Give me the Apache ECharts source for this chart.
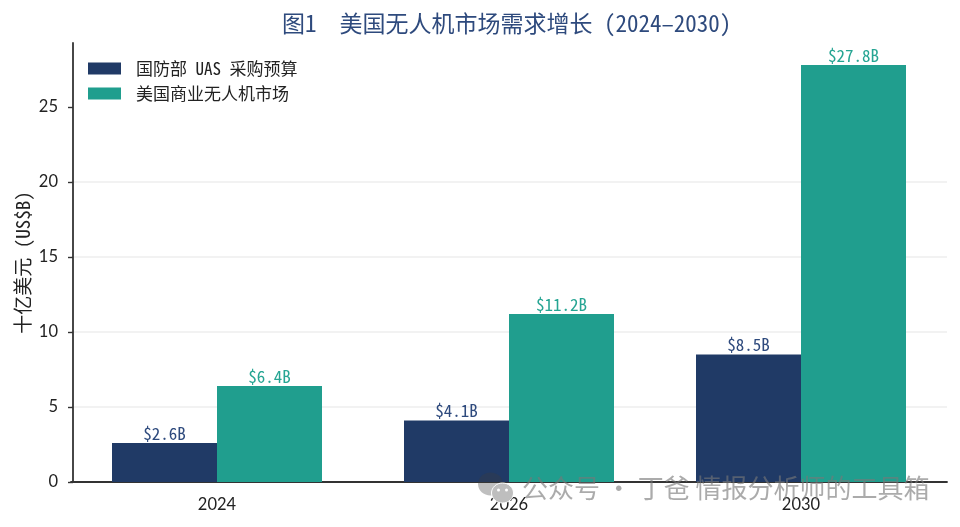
<!DOCTYPE html>
<html><head><meta charset="utf-8">
<style>html,body{margin:0;padding:0;background:#fff}#c{width:960px;height:527px}</style>
<script src="https://cdn.jsdelivr.net/npm/echarts@6/dist/echarts.min.js"></script>
</head><body><div id="c"></div>
<script>
const categories = ['2024','2026','2030'];
const dodBudget = [2.6,4.1,8.5];
const commercialMarket = [6.4,11.2,27.8];
const seriesNames = ['国防部 UAS 采购预算','美国商业无人机市场'];
const yTicks = [0,5,10,15,20,25];
const titleText = '图1  美国无人机市场需求增长 (2024–2030)';
const yName = '十亿美元 (US$B)';
const watermark = '公众号 · 丁爸 情报分析师的工具箱';
const cjk = '"Noto Sans Mono CJK SC","Noto Sans CJK SC"';
const navy='#203a66', teal='#209e8e';
const chart = echarts.init(document.getElementById('c'),null,{renderer:'canvas'});
function bar(name,data,color,labelColor){
  return {name,type:'bar',data,barWidth:105,barGap:'0%',
    itemStyle:{color},
    label:{show:true,position:'top',distance:1,color:labelColor,fontFamily:cjk,fontSize:17,
      formatter:p=>'$'+p.value.toFixed(1)+'B'}};
}
chart.setOption({
  animation:false,backgroundColor:'#fff',
  title:{text:titleText,left:282,top:12,
    padding:0,
    textStyle:{color:'#2e4a7d',fontFamily:cjk,fontWeight:'normal',fontSize:23}},
  legend:{left:80,top:55,orient:'vertical',itemWidth:33,itemHeight:12,itemGap:8,icon:'rect',
    padding:[5,8],textStyle:{fontFamily:cjk,fontSize:17,color:'#222',padding:[0,0,0,10]},data:seriesNames},
  grid:{left:71,width:876,top:43,bottom:45,containLabel:false},
  xAxis:{type:'category',data:categories,
    axisLine:{lineStyle:{color:'#333',width:1.8}},
    axisTick:{alignWithLabel:true,length:5,lineStyle:{color:'#333',width:1.4}},
    axisLabel:{color:'#222',fontFamily:'Lato',fontSize:16.5,margin:14},
    splitLine:{show:false}},
  yAxis:{type:'value',min:0,max:29.27,offset:-2,
    name:yName,nameLocation:'middle',nameGap:41,nameRotate:90,nameMoveOverlap:false,
    nameTextStyle:{fontFamily:cjk,fontSize:19,color:'#222'},
    axisLine:{show:true,lineStyle:{color:'#333',width:1.8}},
    axisTick:{show:true,length:5,customValues:yTicks,lineStyle:{color:'#333',width:1.4}},
    axisLabel:{color:'#222',fontFamily:'Lato',fontSize:16.5,margin:15,customValues:yTicks},
    splitLine:{show:true,showMinLine:false,showMaxLine:false,lineStyle:{color:'#eeeeee',width:1.5}}},
  series:[bar(seriesNames[0],dodBudget,navy,'#2e4a7d'),bar(seriesNames[1],commercialMarket,teal,'#26a593')],
  graphic:[
    {type:'ellipse',shape:{cx:490.5,cy:484,rx:12.5,ry:11.5},style:{fill:'rgba(60,60,60,0.33)'},z:50},
    {type:'ellipse',shape:{cx:502.5,cy:493,rx:11,ry:10},style:{fill:'rgb(190,190,190)',stroke:'#fff',lineWidth:1},z:51},
    {type:'circle',shape:{cx:498.5,cy:490,r:1.5},style:{fill:'#fff'},z:52},
    {type:'circle',shape:{cx:506.5,cy:490,r:1.5},style:{fill:'#fff'},z:52},
    {type:'text',left:522,top:475,z:50,style:{text:watermark,fontFamily:'"Noto Sans CJK SC"',fontSize:26,fill:'rgba(120,120,120,0.62)'}}
  ]
});
</script></body></html>
